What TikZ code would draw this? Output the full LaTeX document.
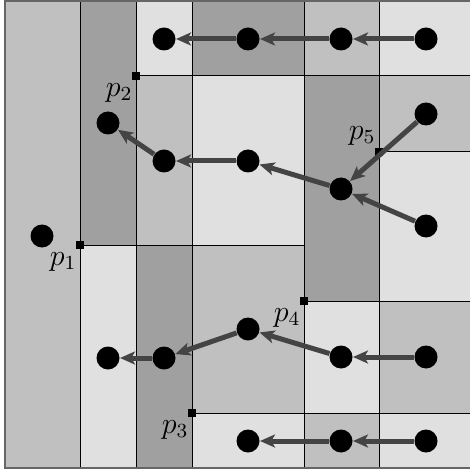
\documentclass[tikz,border=0pt]{standalone}
\usepackage{amsmath}
\usepackage{amssymb}
\usetikzlibrary{arrows.meta}

\definecolor{cellA}{HTML}{E0E0E0}
\definecolor{cellB}{HTML}{C0C0C0}
\definecolor{cellC}{HTML}{A0A0A0}
\definecolor{edgegray}{HTML}{444444}

\tikzset{
  site/.style={circle, fill=black, minimum size=9.2pt, inner sep=0pt},
  split/.style={rectangle, fill=black, minimum size=3.2pt, inner sep=0pt},
  link/.style={edgegray, line width=2pt, -{Stealth[length=6pt,width=5.2pt,inset=1.5pt]}},
  cell/.style={draw=black, line width=0.4pt}
}

\begin{document}
\begin{tikzpicture}[x=0.4pt, y=-0.4pt, font=\fontsize{12}{14}\selectfont]
  \useasboundingbox (0,0) rectangle (469,472);

  % cells
  \foreach \xa/\ya/\xb/\yb/\c in {
      5/1/80/468/cellB,
      80/1/136/245/cellC, 80/245/136/468/cellA,
      136/1/192/76/cellA, 136/76/192/245/cellB, 136/245/192/468/cellC,
      192/1/304/76/cellC, 192/76/304/245/cellA, 192/245/304/413/cellB, 192/413/304/468/cellA,
      304/1/379/76/cellB, 304/76/379/301/cellC, 304/301/379/413/cellA, 304/413/379/468/cellB,
      379/1/473/76/cellA, 379/76/473/152/cellB, 379/152/473/301/cellA, 379/301/473/413/cellB, 379/413/473/468/cellA}
    \filldraw[cell, fill=\c] (\xa,\ya) rectangle (\xb,\yb);
  \draw[black!60, line width=0.8pt] (5,1) rectangle (473,468);

  % split points
  \node[split, label={[label distance=-3.5pt, xshift=1.5pt]below left:$p_1$}] (p1) at (80,245) {};
  \node[split, label={[label distance=-3.5pt, xshift=1.5pt]below left:$p_2$}] (p2) at (136,76) {};
  \node[split, label={[label distance=-3.5pt, xshift=1.5pt]below left:$p_3$}] (p3) at (192,413) {};
  \node[split, label={[label distance=-3.5pt, xshift=1.5pt]below left:$p_4$}] (p4) at (304,301) {};
  \node[split, label={[label distance=-3.5pt, xshift=1.5pt]above left:$p_5$}] (p5) at (379,152) {};

  % sites
  \node[site] (root) at (42,236) {};
  \node[site] (t1) at (164,39) {};
  \node[site] (t2) at (248,39) {};
  \node[site] (t3) at (341,39) {};
  \node[site] (t4) at (426,39) {};
  \node[site] (m1) at (108,123) {};
  \node[site] (m2) at (164,161) {};
  \node[site] (m3) at (248,161) {};
  \node[site] (m4) at (341,189) {};
  \node[site] (m5) at (426,114) {};
  \node[site] (m6) at (426,226) {};
  \node[site] (l1) at (108,358) {};
  \node[site] (l2) at (164,358) {};
  \node[site] (l3) at (248,329) {};
  \node[site] (l4) at (341,357) {};
  \node[site] (l5) at (426,357) {};
  \node[site] (b1) at (248,441) {};
  \node[site] (b2) at (341,441) {};
  \node[site] (b3) at (426,441) {};

  % links
  \draw[link] (t2) -- (t1);
  \draw[link] (t3) -- (t2);
  \draw[link] (t4) -- (t3);
  \draw[link] (m2) -- (m1);
  \draw[link] (m3) -- (m2);
  \draw[link] (m4) -- (m3);
  \draw[link] (m5) -- (m4);
  \draw[link] (m6) -- (m4);
  \draw[link] (l2) -- (l1);
  \draw[link] (l3) -- (l2);
  \draw[link] (l4) -- (l3);
  \draw[link] (l5) -- (l4);
  \draw[link] (b2) -- (b1);
  \draw[link] (b3) -- (b2);
\end{tikzpicture}
\end{document}
